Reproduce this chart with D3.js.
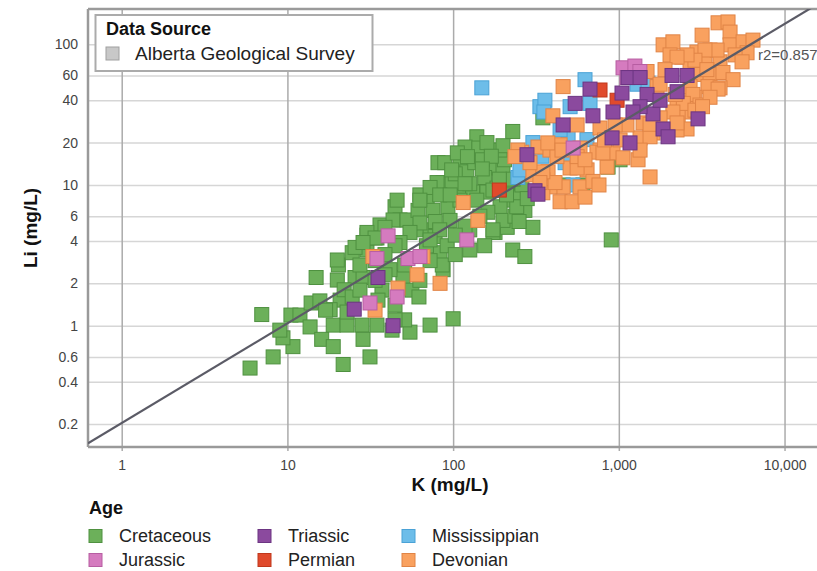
<!DOCTYPE html>
<html>
<head>
<meta charset="utf-8">
<script src="https://cdn.jsdelivr.net/npm/d3@7"></script>
<style>
    html, body { margin: 0; padding: 0; background: #fff; }
    svg { display: block; font-family: 'Liberation Sans', Arial, sans-serif; }
</style>
</head>
<body>
<svg id="chart" width="817" height="571"></svg>
<script>
// ---------- data (K mg/L, Li mg/L) ----------
const kTicks = [1, 10, 100, 1000, 10000];
const liTicks = [0.2, 0.4, 0.6, 1, 2, 4, 6, 10, 20, 40, 60, 100];

const ageNames = ['Cretaceous', 'Jurassic', 'Triassic', 'Permian', 'Mississippian', 'Devonian'];
const dataSources = ['Alberta Geological Survey'];

// regression line in log space: log(Li) = intercept + slope * log(K)
const fitSlope = 0.709;
const fitIntercept = -0.692;
const fitR2 = 0.857;

const cretaceous = [
    [5.95, 0.5], [8.2, 0.6], [7.0, 1.2], [10.8, 0.71], [9.4, 0.82], [9.0, 0.93], [10.5, 1.19], [11.9, 1.19],
    [13.7, 0.98], [13.9, 1.45], [14.9, 2.2], [16.1, 0.8], [18.9, 0.71], [18.9, 1.01], [21.7, 0.53], [22.9, 1.01],
    [20.8, 1.52], [20.0, 2.11], [20.3, 2.7], [22.9, 1.25], [25.6, 2.2], [28.6, 2.2], [28.2, 1.01], [28.6, 0.8],
    [31.5, 0.6], [34.7, 1.01], [37.2, 1.79], [35.2, 1.52], [42.8, 0.93], [54.9, 0.9], [49.8, 2.2], [56.4, 1.79],
    [62.2, 1.6], [72.6, 1.01], [87, 2.5], [83.4, 3.3], [24.6, 3.3], [30.2, 3.45], [100, 1.12], [900, 4.07],
    [303, 5.0], [229, 3.45], [271, 3.1], [179, 4.6], [212, 5.0], [25.6, 3.6], [30.2, 4.4], [36.2, 5.2],
    [44.6, 7.0], [47.8, 5.64], [20.0, 2.93], [34.7, 4.2], [60.6, 4.8], [43.4, 5.64], [52.7, 5.64], [69.7, 7.8],
    [81, 14.4], [72.6, 4.8], [139, 22], [229, 24], [118, 18.6], [143, 18.3], [89, 14.4], [110, 15.1],
    [121, 12.4], [135, 14.4], [172, 13.2], [200, 12.8], [155, 11.3], [87, 10.4], [110, 9.21], [131, 8.9],
    [160, 8.9], [184, 9.5], [220, 7.8], [45.9, 7.8], [61.4, 6.6], [75.6, 6.6], [93, 7.0], [110, 7.8],
    [139, 7.8], [192, 7.0], [200, 5.6], [162, 6.4], [95.8, 5.6], [78, 5.5], [63.1, 5.37], [38.8, 5.0],
    [54.9, 4.6], [30.2, 4.6], [33.8, 4.2], [47.8, 3.9], [77.8, 4.3], [92, 3.7], [126, 4.8], [174, 4.6],
    [86, 2.7], [28.6, 3.9], [348, 30], [80, 10.4], [98.5, 10.4], [220, 9.2], [1017, 15.1], [861, 13.4],
    [607, 10.0], [461, 10.0], [174, 4.8], [106, 16.9], [122, 15.9], [63, 8.5], [72.6, 9.6], [103, 12],
    [126, 10.2], [213, 10.2], [253, 8.2], [271, 6.6], [236, 6.0], [145, 6.0], [118, 5.1], [103, 4.4],
    [83, 4.8], [44.6, 3.7], [38.8, 3.2], [51, 2.7], [63, 2.1], [41.6, 2.5], [27.4, 2.7], [22, 1.8],
    [18.1, 1.3], [44.6, 1.4], [51, 1.1], [15.7, 1.5], [33.8, 2.1], [24.6, 1.6], [69, 3.7], [126, 3.45],
    [72.6, 2.9], [155, 3.7], [242, 7.0], [174, 9.2], [98, 12.8], [83, 8.5], [63, 7.8], [96, 8.5],
    [118, 10.2], [150, 15.1], [179, 17.7], [204, 15.1], [192, 17.7], [72.6, 4.07], [103, 3.2], [33.8, 2.9],
    [38.8, 2.3], [27.4, 1.79], [44.6, 1.1], [17, 1.29], [160, 20], [200, 19], [260, 10], [280, 8],
    [230, 11], [190, 11], [170, 16], [250, 5.5], [210, 8.5], [150, 13]
];

const jurassic = [
    [40.5, 4.35], [34.7, 3.0], [53.4, 3.0], [63.1, 3.1], [31.5, 1.45], [45.9, 1.6], [121, 4.07],
    [1060, 68], [1250, 70], [1340, 64], [1120, 58], [530, 18.3]
];

const triassic = [
    [25.3, 1.31], [35.2, 2.2], [43.4, 1.0], [279, 16.4], [312, 9.1], [325, 8.6], [461, 26.7], [545, 38],
    [670, 48], [698, 31], [922, 33], [910, 21.6], [1168, 19.9], [1045, 45], [1136, 58], [1343, 58],
    [1480, 44], [1608, 32], [1773, 40], [1848, 25], [1982, 22], [2094, 60], [2582, 60], [3006, 29.5],
    [1343, 36], [2246, 46], [1217, 33]
];

const permian = [[190, 9.2], [770, 47.3], [976, 40]];

const mississippian = [
    [149, 49], [334, 36], [358, 40], [625, 56], [508, 36], [670, 38], [494, 21.6], [642, 21], [303, 20],
    [343, 16], [246, 11.3], [253, 12.8], [474, 14.4], [529, 10], [1287, 52], [1500, 53], [442, 24.6], [353, 33]
];

const devonian = [
    [3970, 142], [4560, 144], [4690, 122], [3180, 116], [1850, 99], [2120, 104], [2960, 88], [3550, 91],
    [2400, 81], [2037, 84], [4690, 99], [5620, 104], [6450, 107], [5940, 87], [5030, 84], [2690, 71],
    [3310, 74], [4080, 75], [5540, 75], [3090, 61], [3550, 61], [4250, 63], [4890, 56], [3450, 50],
    [4080, 49], [2690, 50], [2880, 42], [2650, 39], [2245, 38], [2510, 33], [2280, 30.5], [1700, 50],
    [2580, 25], [2245, 24.6], [1400, 27.6], [1343, 21.6], [1306, 15.1], [1543, 11.4], [1480, 64], [461, 50],
    [400, 31], [325, 18.6], [384, 17.7], [442, 19.3], [583, 18.3], [770, 17.7], [922, 16.9], [1060, 15.6],
    [849, 13.4], [643, 12.8], [508, 13.2], [423, 15.9], [374, 12.4], [348, 10.9], [303, 11.8], [260, 17.1],
    [583, 9.7], [698, 10.6], [461, 9.7], [384, 9.7], [348, 8.8], [560, 26.7], [373, 19.9], [454, 17.7],
    [738, 17.1], [560, 13.2], [412, 10.4], [442, 7.6], [522, 7.6], [625, 8.2], [759, 10], [246, 17.7],
    [236, 15.9], [141, 5.6], [115, 7.5], [60.6, 2.3], [83.4, 2.0], [46.5, 1.85], [33.8, 1.29], [32.8, 3.1],
    [65.8, 3.1], [3915, 91], [3310, 91], [2880, 77], [2580, 84], [2245, 81], [3400, 66], [3970, 48],
    [2800, 44], [2450, 38], [2120, 33], [2245, 27.6], [1608, 23.4], [1543, 22], [802, 16.9], [560, 15.9],
    [348, 12.4], [334, 10.4], [1900, 66], [1120, 26.7], [950, 26.7], [1773, 30], [3090, 37], [3550, 42],
    [2880, 34], [1343, 17.7], [291, 14.4], [770, 25.4], [820, 20.9], [625, 15.1], [1017, 20.9], [1543, 27],
    [1773, 52], [2190, 44], [3200, 36]
];

// ---------- styles ----------
const ageColors = {
    Cretaceous: { fill: '#6cb05a', stroke: '#4f9140' },
    Jurassic: { fill: '#d57bbf', stroke: '#b75ea2' },
    Triassic: { fill: '#8b4a9e', stroke: '#6c3582' },
    Permian: { fill: '#e04a2c', stroke: '#c0381c' },
    Mississippian: { fill: '#6dbde9', stroke: '#4aa2d6' },
    Devonian: { fill: '#f9a15f', stroke: '#e08446' },
};

const seriesByAge = {
    Cretaceous: cretaceous,
    Jurassic: jurassic,
    Triassic: triassic,
    Permian: permian,
    Mississippian: mississippian,
    Devonian: devonian,
};

// draw order (last on top)
const drawOrder = ['Cretaceous', 'Mississippian', 'Devonian', 'Permian', 'Jurassic', 'Triassic'];

// ---------- layout ----------
const svg = d3.select('#chart');
const plot = { left: 88, top: 9, right: 817, bottom: 447 };
const markSize = 14;

const x = d3.scaleLog().domain([0.626, 15700]).range([plot.left, plot.right]);
const y = d3.scaleLog().domain([0.1374, 178]).range([plot.bottom, plot.top]);

svg.append('defs')
    .append('clipPath')
    .attr('id', 'plot-clip')
    .append('rect')
    .attr('x', plot.left)
    .attr('y', plot.top)
    .attr('width', plot.right - plot.left)
    .attr('height', plot.bottom - plot.top);

// horizontal grid + y labels
const yAxis = svg.append('g')
    .attr('transform', `translate(${plot.left},0)`)
    .call(d3.axisLeft(y).tickValues(liTicks).tickFormat(d3.format('')).tickSize(-(plot.right - plot.left)).tickPadding(10));
yAxis.select('.domain').remove();
yAxis.selectAll('line').attr('stroke', '#d6d6d6').attr('stroke-width', 1.5);
yAxis.selectAll('text').attr('fill', '#444').style('font-size', '14px');

// vertical grid + x labels (ticks poke a few px below the frame)
const xAxis = svg.append('g')
    .attr('transform', `translate(0,${plot.bottom + 4})`)
    .call(d3.axisBottom(x).tickValues(kTicks).tickFormat(d3.format(',')).tickSize(-(plot.bottom + 4 - plot.top)).tickPadding(9));
xAxis.select('.domain').remove();
xAxis.selectAll('line').attr('stroke', '#ababab').attr('stroke-width', 1.5);
xAxis.selectAll('text').attr('fill', '#444').style('font-size', '14px');

// frame
const frame = svg.append('g').attr('stroke', '#9a9a9a').attr('stroke-width', 2.5);
frame.append('line').attr('x1', plot.left).attr('x2', plot.left).attr('y1', plot.top).attr('y2', plot.bottom);
frame.append('line').attr('x1', plot.left).attr('x2', plot.right).attr('y1', plot.bottom).attr('y2', plot.bottom);
frame.append('line').attr('x1', plot.left).attr('x2', plot.right).attr('y1', plot.top).attr('y2', plot.top);

// points
const marks = svg.append('g').attr('clip-path', 'url(#plot-clip)');
drawOrder.forEach((age) => {
    marks.append('g')
        .selectAll('rect')
        .data(seriesByAge[age])
        .join('rect')
        .attr('x', (d) => x(d[0]) - markSize / 2)
        .attr('y', (d) => y(d[1]) - markSize / 2)
        .attr('width', markSize)
        .attr('height', markSize)
        .attr('fill', ageColors[age].fill)
        .attr('stroke', ageColors[age].stroke)
        .attr('stroke-width', 1);
});

// regression line
const fitLine = d3.line()
    .x((k) => x(k))
    .y((k) => y(Math.pow(10, fitIntercept + fitSlope * Math.log10(k))));
svg.append('path')
    .attr('clip-path', 'url(#plot-clip)')
    .attr('d', fitLine(x.domain()))
    .attr('fill', 'none')
    .attr('stroke', '#5b5b66')
    .attr('stroke-width', 2.2);

svg.append('text')
    .attr('x', 758)
    .attr('y', 60)
    .attr('fill', '#555')
    .style('font-size', '15px')
    .text(`r2=${fitR2}`);

// axis titles
svg.append('text')
    .attr('x', 450)
    .attr('y', 491)
    .attr('text-anchor', 'middle')
    .attr('font-weight', 'bold')
    .attr('fill', '#111')
    .style('font-size', '19px')
    .text('K (mg/L)');

svg.append('text')
    .attr('transform', `translate(37,${(plot.top + plot.bottom) / 2}) rotate(-90)`)
    .attr('text-anchor', 'middle')
    .attr('font-weight', 'bold')
    .attr('fill', '#111')
    .style('font-size', '19px')
    .text('Li (mg/L)');

// data source legend (top left)
const srcLegend = svg.append('g');
srcLegend.append('rect')
    .attr('x', 95.5).attr('y', 15).attr('width', 277).attr('height', 56)
    .attr('fill', '#fff').attr('stroke', '#ababab').attr('stroke-width', 2);
srcLegend.append('text')
    .attr('x', 106).attr('y', 35)
    .attr('font-weight', 'bold').attr('fill', '#111')
    .style('font-size', '18px')
    .text('Data Source');
srcLegend.selectAll('.src')
    .data(dataSources)
    .join('g')
    .attr('class', 'src')
    .each(function (name) {
        const g = d3.select(this);
        g.append('rect').attr('x', 106).attr('y', 47).attr('width', 13).attr('height', 13)
            .attr('fill', '#c8c8c8').attr('stroke', '#a0a0a0');
        g.append('text').attr('x', 135).attr('y', 60).attr('fill', '#222')
            .style('font-size', '19px').text(name);
    });

// age legend (bottom)
svg.append('text')
    .attr('x', 89).attr('y', 514)
    .attr('font-weight', 'bold').attr('fill', '#111')
    .style('font-size', '18px')
    .text('Age');

const legendCols = [89, 258, 402];
const legendRows = [536, 560];
const ageLegend = svg.append('g')
    .selectAll('g')
    .data(ageNames)
    .join('g')
    .attr('transform', (d, i) => `translate(${legendCols[Math.floor(i / 2)]},${legendRows[i % 2]})`);
ageLegend.append('rect')
    .attr('x', 0).attr('y', -6.5).attr('width', 13).attr('height', 13)
    .attr('fill', (d) => ageColors[d].fill)
    .attr('stroke', (d) => ageColors[d].stroke);
ageLegend.append('text')
    .attr('x', 30).attr('y', 6)
    .attr('fill', '#222')
    .style('font-size', '18px')
    .text((d) => d);
</script>
</body>
</html>
